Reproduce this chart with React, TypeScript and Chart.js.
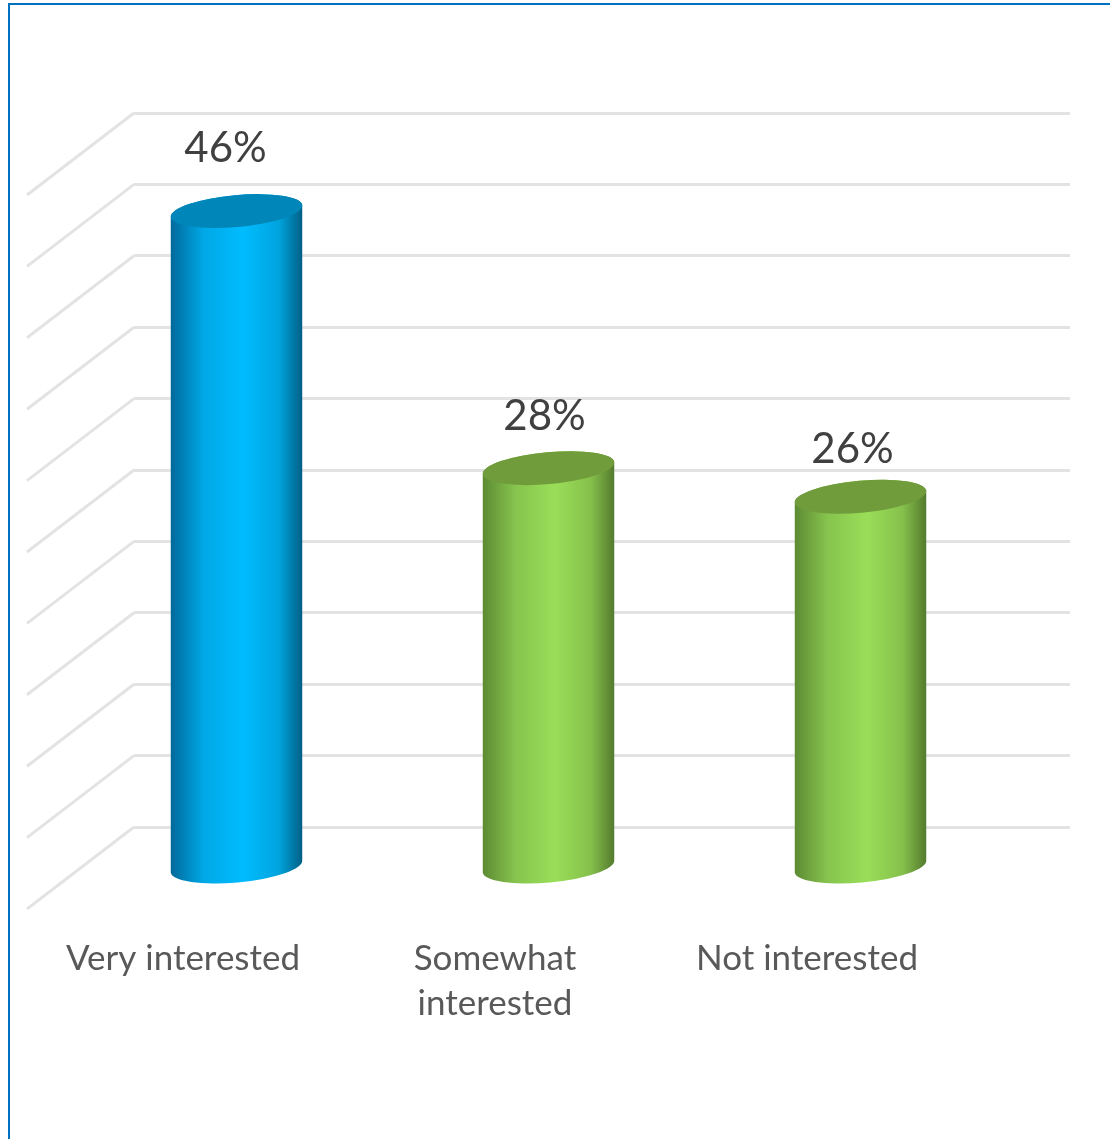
import React, { useEffect, useRef } from "react";
import { Chart, registerables } from "chart.js";

Chart.register(...registerables);

// Survey results
const categories: (string | string[])[] = ["Very interested", ["Somewhat", "interested"], "Not interested"];
const shares = [46, 28, 26];
const valueLabels = ["46%", "28%", "26%"];

// Cylinder shading, one palette per bar: left edge to right edge, then the lid
const palettes = [
  { stops: ["#01689a", "#00a8e6", "#00bcff", "#00a4de", "#005f85"], lid: "#0086b8" },
  { stops: ["#5c8a33", "#86c44e", "#9ade58", "#86c04c", "#537a2d"], lid: "#709c3c" },
  { stops: ["#5c8a33", "#86c44e", "#9ade58", "#86c04c", "#537a2d"], lid: "#709c3c" },
];

// Perspective of the floor: how far the front edge sits from the back wall
const FLOOR_DX = -107;
const FLOOR_DY = 82;
const BAR_WIDTH = 132;
const LID_RY = 16;
const LID_TILT = -0.09;

// Hand-placed value labels, relative to each bar's centre and lid
const labelNudges = [
  { dx: -11, dy: -63 },
  { dx: -4, dy: -52 },
  { dx: -8, dy: -47 },
];

const perspectiveGrid = {
  id: "perspectiveGrid",
  beforeDatasetsDraw(chart: any) {
    const { ctx, scales, chartArea } = chart;
    ctx.save();
    ctx.strokeStyle = "#e3e3e3";
    ctx.lineWidth = 3;
    for (const tick of scales.y.ticks) {
      const py = scales.y.getPixelForValue(tick.value);
      ctx.beginPath();
      ctx.moveTo(chartArea.left, py);
      ctx.lineTo(chartArea.left + FLOOR_DX, py + FLOOR_DY);
      ctx.stroke();
    }
    ctx.restore();
  },
};

const cylinders = {
  id: "cylinders",
  afterDatasetsDraw(chart: any) {
    const { ctx } = chart;
    const bars = chart.getDatasetMeta(0).data;
    bars.forEach((bar: any, i: number) => {
      // Bars stand halfway between the back wall and the front of the floor
      const cx = bar.x + FLOOR_DX / 2;
      const top = bar.y + FLOOR_DY / 2;
      const bottom = bar.base + FLOOR_DY / 2;
      const rx = BAR_WIDTH / 2;
      const palette = palettes[i];

      const shade = ctx.createLinearGradient(cx - rx, 0, cx + rx, 0);
      const offsets = [0, 0.25, 0.55, 0.82, 1];
      palette.stops.forEach((c, k) => shade.addColorStop(offsets[k], c));

      ctx.save();
      ctx.beginPath();
      ctx.ellipse(cx, bottom, rx, LID_RY, LID_TILT, 0, Math.PI, false);
      ctx.ellipse(cx, top, rx, LID_RY, LID_TILT, Math.PI, Math.PI * 2, false);
      ctx.closePath();
      ctx.fillStyle = shade;
      ctx.fill();

      ctx.beginPath();
      ctx.ellipse(cx, top, rx, LID_RY, LID_TILT, 0, Math.PI * 2);
      ctx.fillStyle = palette.lid;
      ctx.fill();

      ctx.font = "42px Lato";
      ctx.fillStyle = "#404040";
      ctx.textAlign = "center";
      ctx.textBaseline = "middle";
      ctx.fillText(valueLabels[i], cx + labelNudges[i].dx, top + labelNudges[i].dy);
      ctx.restore();
    });
  },
};

export default function App() {
  const ref = useRef<HTMLCanvasElement>(null);

  useEffect(() => {
    const chart = new Chart(ref.current!, {
      type: "bar",
      data: {
        labels: categories as any,
        datasets: [
          {
            data: shares,
            backgroundColor: "rgba(0,0,0,0)",
            barThickness: BAR_WIDTH,
          },
        ],
      },
      options: {
        responsive: false,
        animation: false,
        layout: { padding: { left: 134, right: 40, top: 113, bottom: 0 } },
        plugins: { legend: { display: false }, tooltip: { enabled: false } },
        scales: {
          x: {
            afterFit(scale: any) {
              // Labels are shifted onto the front edge, so they need no side margin
              scale.height = 312;
              scale.paddingLeft = 0;
              scale.paddingRight = 0;
            },
            grid: { display: false, drawTicks: false },
            border: { display: false },
            ticks: {
              autoSkip: false,
              maxRotation: 0,
              labelOffset: FLOOR_DX,
              padding: 109,
              color: "#595959",
              font: { family: "Lato", size: 35, lineHeight: 1.29 },
            },
          },
          y: {
            min: 0,
            max: 50,
            afterFit(scale: any) {
              scale.width = 0;
            },
            grid: { color: "#e3e3e3", lineWidth: 3, drawTicks: false },
            border: { display: false },
            ticks: { display: false, stepSize: 5 },
          },
        },
      },
      plugins: [perspectiveGrid, cylinders],
    } as any);
    return () => chart.destroy();
  }, []);

  return (
    <div
      style={{
        position: "absolute",
        left: 0,
        top: 0,
        width: 1110,
        height: 1139,
        overflow: "hidden",
        background: "#ffffff",
      }}
    >
      <div
        style={{
          position: "absolute",
          left: 8,
          top: 3,
          width: 1200,
          height: 1300,
          border: "2px solid #0070c0",
          boxSizing: "border-box",
        }}
      />
      <canvas ref={ref} width={1110} height={1139} style={{ position: "absolute", left: 0, top: 0 }} />
    </div>
  );
}
